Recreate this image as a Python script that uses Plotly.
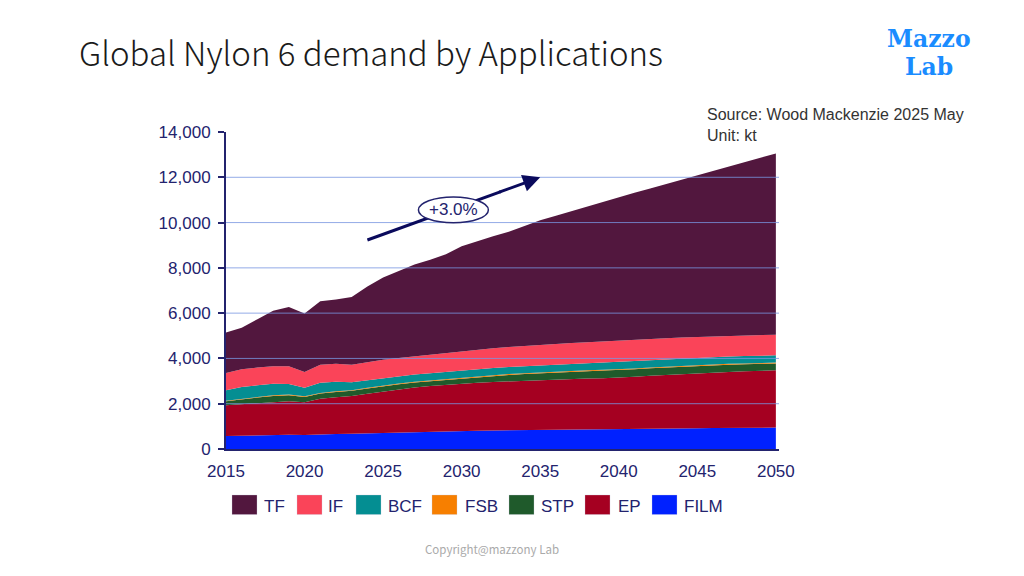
import plotly.graph_objects as go

years = list(range(2015, 2051))

FILM = [570, 590, 600, 615, 630, 620, 650, 665, 675, 695, 715, 735, 750, 765, 780, 795, 810, 820,
        830, 840, 850, 858, 865, 872, 878, 885, 892, 898, 905, 910, 916, 922, 928, 933, 938, 945]
EP = [1360, 1385, 1430, 1460, 1480, 1450, 1570, 1625, 1665, 1745, 1825, 1895, 1970, 2015, 2060, 2095, 2120, 2140,
      2160, 2180, 2195, 2207, 2220, 2238, 2252, 2265, 2298, 2332, 2365, 2405, 2439, 2458, 2477, 2497, 2517, 2530]
STP = [175, 220, 240, 265, 265, 230, 230, 230, 228, 232, 232, 232, 218, 218, 213, 223, 243, 268,
       283, 288, 303, 313, 323, 328, 333, 333, 333, 333, 328, 323, 318, 318, 318, 313, 308, 303]
FSB = [25, 27, 28, 29, 29, 26, 28, 29, 30, 30, 31, 31, 32, 32, 32, 33, 33, 33,
       34, 34, 34, 35, 35, 35, 35, 36, 36, 36, 36, 37, 37, 37, 37, 37, 38, 38]
BCF = [460, 513, 512, 516, 466, 384, 449, 425, 347, 328, 302, 317, 316, 310, 315, 330, 314, 314,
       313, 313, 309, 307, 312, 312, 317, 321, 321, 321, 326, 325, 325, 325, 325, 325, 319, 319]
IF = [765, 785, 785, 765, 780, 690, 795, 795, 780, 810, 840, 810, 810, 810, 840, 835, 850, 870,
      890, 905, 910, 920, 925, 935, 945, 960, 950, 940, 930, 920, 910, 910, 915, 915, 920, 915]
TF = [1785, 1840, 2135, 2460, 2620, 2580, 2805, 2830, 2985, 3340, 3625, 3840, 4055, 4210, 4360, 4640, 4810, 4955,
      5090, 5290, 5500, 5660, 5830, 5990, 6160, 6330, 6490, 6650, 6810, 6970, 7135, 7310, 7480, 7650, 7820, 8000]

stack_order = ["FILM", "EP", "STP", "FSB", "BCF", "IF", "TF"]
legend_order = ["TF", "IF", "BCF", "FSB", "STP", "EP", "FILM"]
series = {"FILM": FILM, "EP": EP, "STP": STP, "FSB": FSB, "BCF": BCF, "IF": IF, "TF": TF}
colors = {"TF": "#52173e", "IF": "#fa4459", "BCF": "#048e92", "FSB": "#f77f00",
          "STP": "#1f5a2b", "EP": "#a50021", "FILM": "#0021ff"}

y_ticks = [0, 2000, 4000, 6000, 8000, 10000, 12000, 14000]
x_ticks = [2015, 2020, 2025, 2030, 2035, 2040, 2045, 2050]

OFF = 8  # page body margin
W, H = 1024 - 2 * OFF, 576 - 2 * OFF
# plot area in screenshot pixels
SL, SR, ST, SB = 226, 779, 132, 449
L, R, T, B = SL - OFF, SR - OFF, ST - OFF, SB - OFF
NAVY = "#23236e"

fig = go.Figure()
for name in stack_order:
    fig.add_trace(go.Scatter(
        x=years, y=series[name], name=name, mode="lines", stackgroup="one",
        line=dict(width=0, color=colors[name]), fillcolor=colors[name],
        showlegend=False, hoverinfo="x+y+name"))

def px(x):
    return (x - SL) / (SR - SL)

def py(y):
    return (SB - y) / (SB - ST)

shapes = []
for v in y_ticks[1:-1]:
    shapes.append(dict(type="line", xref="paper", yref="y", x0=0, x1=1, y0=v, y1=v,
                       line=dict(color="rgba(120,150,225,0.8)", width=1), layer="above"))

leg_sq_x = [232, 297, 356, 432, 509, 585, 652]
leg_tx_x = [262, 326, 386, 463, 539, 616, 682]
annotations = []
for name, sx, tx in zip(legend_order, leg_sq_x, leg_tx_x):
    shapes.append(dict(type="rect", xref="paper", yref="paper",
                       x0=px(sx), x1=px(sx + 25), y0=py(495), y1=py(514.5),
                       fillcolor=colors[name], line=dict(color="rgba(200,200,220,0.6)", width=0.5)))
    annotations.append(dict(text=name, xref="paper", yref="paper", x=px(tx), y=py(506),
                            xanchor="left", yanchor="middle", showarrow=False,
                            font=dict(family="Liberation Sans, Arial", size=17, color=NAVY)))

# growth arrow shaft (behind ellipse), ellipse, then arrow head
shapes.append(dict(type="line", xref="x", yref="y", x0=2024, y0=9230, x1=2032.5, y1=11370,
                   line=dict(color="#0a0a5c", width=3), layer="above"))
shapes.append(dict(type="circle", xref="x", yref="y", x0=2027.25, x1=2031.7, y0=9990, y1=11130,
                   fillcolor="white", line=dict(color=NAVY, width=1.5), layer="above"))
annotations.append(dict(x=2035, y=12000, ax=2032.3, ay=11320, xref="x", yref="y", axref="x", ayref="y",
                        text="", showarrow=True, arrowhead=2, arrowsize=1.15, arrowwidth=3,
                        arrowcolor="#0a0a5c"))
annotations.append(dict(x=2029.47, y=10560, xref="x", yref="y", text="+3.0%", showarrow=False,
                        font=dict(family="Liberation Sans, Arial", size=17, color=NAVY)))

annotations.append(dict(text="Global Nylon 6 demand by Applications", xref="paper", yref="paper",
                        x=px(77), y=py(52), xanchor="left", yanchor="middle", showarrow=False,
                        font=dict(family="Noto Sans CJK SC, Noto Sans", size=33, weight=300, color="#1a1a1a")))
annotations.append(dict(text="<b>Mazzo</b>", xref="paper", yref="paper", x=px(929), y=py(39),
                        xanchor="center", yanchor="middle", showarrow=False,
                        font=dict(family="DejaVu Serif", size=23.5, color="#1a8cff")))
annotations.append(dict(text="<b>Lab</b>", xref="paper", yref="paper", x=px(929), y=py(67),
                        xanchor="center", yanchor="middle", showarrow=False,
                        font=dict(family="DejaVu Serif", size=23.5, color="#1a8cff")))
annotations.append(dict(text="Source: Wood Mackenzie 2025 May", xref="paper", yref="paper",
                        x=px(705), y=py(115), xanchor="left", yanchor="middle", showarrow=False,
                        font=dict(family="Liberation Sans, Arial", size=16, color="#333333")))
annotations.append(dict(text="Unit: kt", xref="paper", yref="paper",
                        x=px(705), y=py(135), xanchor="left", yanchor="middle", showarrow=False,
                        font=dict(family="Liberation Sans, Arial", size=16, color="#333333")))
annotations.append(dict(text="Copyright@mazzony Lab", xref="paper", yref="paper",
                        x=px(492), y=py(549), xanchor="center", yanchor="middle", showarrow=False,
                        font=dict(family="Noto Sans CJK SC, Noto Sans", size=11.5, color="#aaaaaa")))

fig.update_layout(
    width=W, height=H,
    margin=dict(l=L, r=W - R, t=T, b=H - B, pad=0),
    paper_bgcolor="white", plot_bgcolor="white",
    showlegend=False,
    shapes=shapes, annotations=annotations,
    xaxis=dict(range=[2015, 2050.2], tickmode="array", tickvals=x_ticks, ticktext=[str(v) for v in x_ticks],
               showgrid=False, zeroline=False, showline=True, linecolor=NAVY, linewidth=2,
               ticks="", ticklabelstandoff=6,
               tickfont=dict(family="Liberation Sans, Arial", size=17, color=NAVY)),
    yaxis=dict(range=[0, 14000], tickmode="array", tickvals=y_ticks,
               ticktext=[f"{v:,}" for v in y_ticks],
               showgrid=False, zeroline=False, showline=True, linecolor=NAVY, linewidth=2,
               ticks="outside", ticklen=6, tickwidth=2, tickcolor=NAVY, ticklabelstandoff=4,
               tickfont=dict(family="Liberation Sans, Arial", size=17, color=NAVY)),
)

fig.write_html("out.html")
